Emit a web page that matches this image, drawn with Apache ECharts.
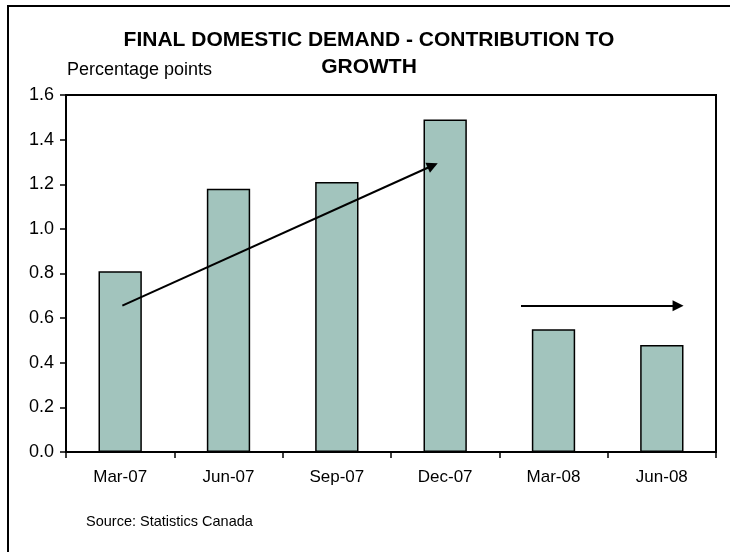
<!DOCTYPE html>
<html>
<head>
<meta charset="utf-8">
<script src="https://cdn.jsdelivr.net/npm/echarts@6/dist/echarts.min.js"></script>
<style>
  html, body { margin: 0; padding: 0; background: #fff; }
  #chart { width: 730px; height: 552px; }
</style>
</head>
<body>
<div id="chart"></div>
<script>
// Quarterly contribution of final domestic demand to GDP growth
const quarters = ['Mar-07', 'Jun-07', 'Sep-07', 'Dec-07', 'Mar-08', 'Jun-08'];
const contribution = [0.81, 1.18, 1.21, 1.49, 0.55, 0.48];
const yTicks = ['0.0', '0.2', '0.4', '0.6', '0.8', '1.0', '1.2', '1.4', '1.6'];

// Trend arrows in chart units: [category position (0..6), percentage points]
const risingTrendFrom = [0.52, 0.656];
const risingTrendTo = [3.385, 1.284];
const flatTrendFrom = [4.20, 0.656];
const flatTrendTo = [5.65, 0.656];

const chart = echarts.init(document.getElementById('chart'), null, { renderer: 'canvas' });

const font = 'Liberation Sans, Arial, Helvetica, sans-serif';
const arrowLine = { color: '#000', width: 2, type: 'solid' };

chart.setOption({
  animation: false,
  backgroundColor: '#fff',
  textStyle: { fontFamily: font },
  graphic: [
    {
      type: 'rect',
      shape: { x: 8, y: 6, width: 740, height: 560 },
      style: { fill: 'none', stroke: '#000', lineWidth: 2 },
      silent: true, z: -10
    },
    {
      type: 'text',
      x: 369, y: 27,
      style: {
        text: 'FINAL DOMESTIC DEMAND - CONTRIBUTION TO\nGROWTH',
        font: 'bold 21px ' + font,
        fill: '#000',
        align: 'center',
        verticalAlign: 'top',
        lineHeight: 27
      }
    },
    {
      type: 'text',
      x: 67, y: 61,
      style: {
        text: 'Percentage points',
        font: '18px ' + font,
        fill: '#000',
        align: 'left',
        verticalAlign: 'top'
      }
    },
    {
      type: 'text',
      x: 86, y: 514,
      style: {
        text: 'Source: Statistics Canada',
        font: '14.5px ' + font,
        fill: '#000',
        align: 'left',
        verticalAlign: 'top'
      }
    }
  ],
  grid: {
    left: 66, right: 14, top: 95, bottom: 100,
    show: true, borderColor: '#000', borderWidth: 2, backgroundColor: 'transparent'
  },
  xAxis: [
    {
      type: 'category',
      data: quarters,
      axisLine: { lineStyle: { color: '#000', width: 2 } },
      axisTick: { show: true, length: 6, lineStyle: { color: '#000', width: 1.5 } },
      axisLabel: { color: '#000', fontSize: 17, margin: 17, fontFamily: font },
      splitLine: { show: false }
    },
    {
      // Hidden continuous axis used to place the trend arrows
      type: 'value', min: 0, max: quarters.length, show: false
    }
  ],
  yAxis: {
    type: 'value',
    min: 0, max: 1.6, interval: 0.2,
    axisLine: { show: true, lineStyle: { color: '#000', width: 2 } },
    axisTick: { show: true, length: 6, lineStyle: { color: '#000', width: 1.5 } },
    axisLabel: {
      color: '#000', fontSize: 18, margin: 12, fontFamily: font,
      formatter: (v) => yTicks[Math.round(v / 0.2)]
    },
    splitLine: { show: false }
  },
  series: [
    {
      type: 'bar',
      data: contribution,
      barWidth: '40%',
      itemStyle: { color: '#a2c4bd', borderColor: '#000', borderWidth: 1.5 }
    },
    {
      type: 'scatter',
      xAxisIndex: 1,
      data: [],
      silent: true,
      markLine: {
        silent: true,
        symbol: ['none', 'triangle'],
        symbolSize: 11,
        label: { show: false },
        lineStyle: arrowLine,
        emphasis: { disabled: true },
        data: [
          [{ coord: risingTrendFrom }, { coord: risingTrendTo }],
          [{ coord: flatTrendFrom }, { coord: flatTrendTo }]
        ]
      }
    }
  ]
});
</script>
</body>
</html>
